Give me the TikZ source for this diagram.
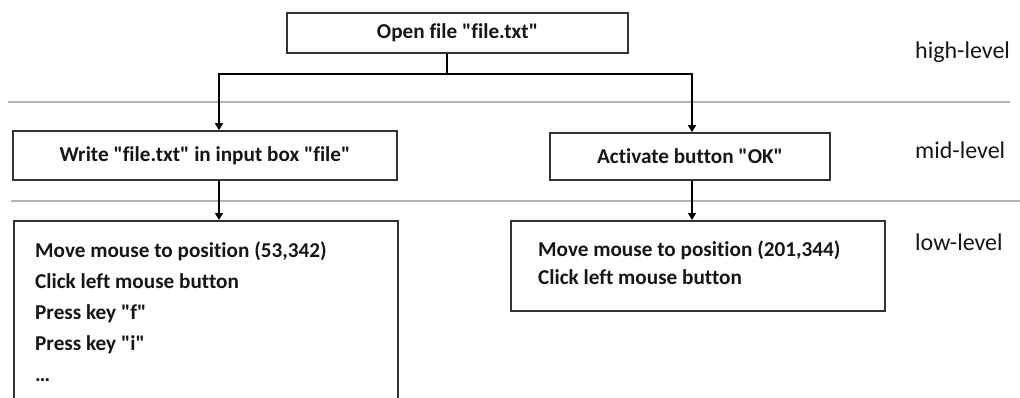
\documentclass[tikz,border=0pt]{standalone}
\usepackage{fontspec}
\setmainfont{Carlito}[Ligatures={TeXOff,CommonOff}]
\usetikzlibrary{arrows.meta,calc}
\definecolor{boxgray}{HTML}{333333}
\definecolor{sepgray}{HTML}{B4B4B4}
\definecolor{txt}{HTML}{161616}
\begin{document}
\begin{tikzpicture}[x=1pt,y=-1pt,
  box/.style={draw=boxgray, line width=1.6pt, inner sep=0pt},
  boldtxt/.style={font=\fontsize{21.2}{25}\selectfont\bfseries, text=txt},
  lvl/.style={font=\fontsize{24}{28}\selectfont, text=txt, inner sep=0pt, anchor=base west},
  sep/.style={draw=sepgray, line width=1.5pt},
  link/.style={draw=black, line width=1.4pt},
  arr/.style={link, -{Triangle[length=7pt,width=8pt]}}
]
\useasboundingbox (0,0) rectangle (1020,397);
\clip (0,0) rectangle (1020,397);

% level separators
\coordinate (s1a) at (8,102);   \coordinate (s1b) at (1010,102);
\coordinate (s2a) at (11,201);  \coordinate (s2b) at (1020,201);
\draw[sep] (s1a) -- (s1b);
\draw[sep] (s2a) -- (s2b);

% level labels
\node[lvl] (lhigh) at (915,58)  {high-level};
\node[lvl] (lmid)  at (915,158) {mid-level};
\node[lvl] (llow)  at (915,250) {low-level};

% high level
\node[box, boldtxt, minimum width=341pt, minimum height=40pt] (top) at (457.5,33) {Open file "file.txt"};

% mid level
\node[box, boldtxt, minimum width=384pt, minimum height=49pt] (mid1) at (205,155.5) {Write "file.txt" in input box "file"};
\node[box, boldtxt, minimum width=280pt, minimum height=47pt] (mid2) at (690,156.5) {Activate button "OK"};

% low level
\node[box, anchor=north west, minimum width=384pt, minimum height=200pt] (low1) at (13,220) {};
\node[boldtxt, font=\fontsize{21.2}{31}\selectfont\bfseries, anchor=north west, align=left, inner sep=0pt] (low1txt) at (35,242)
  {Move mouse to position (53,342)\\Click left mouse button\\Press key "f"\\Press key "i"\\…};
\node[box, anchor=north west, minimum width=374pt, minimum height=90pt] (low2) at (510,220) {};
\node[boldtxt, font=\fontsize{21.2}{28}\selectfont\bfseries, anchor=north west, align=left, inner sep=0pt] (low2txt) at (538,241)
  {Move mouse to position (201,344)\\Click left mouse button};

% connectors
\coordinate (j)  at (447,74);
\coordinate (jl) at (219,74);
\coordinate (jr) at (692,74);
\draw[link] (top.south -| j) -- (j);
\draw[arr] (j) -| (jl |- mid1.north);
\draw[arr] (j) -| (jr |- mid2.north);
\draw[arr] (mid1.south -| jl) -- (low1.north -| jl);
\draw[arr] (mid2.south -| jr) -- (low2.north -| jr);
\end{tikzpicture}
\end{document}
